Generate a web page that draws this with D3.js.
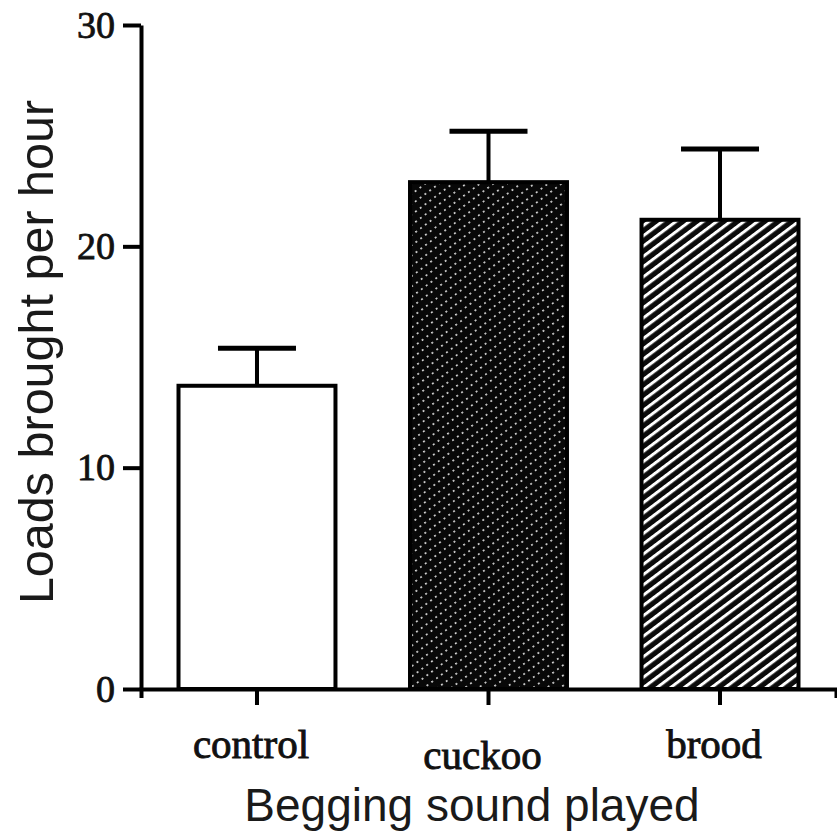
<!DOCTYPE html>
<html>
<head>
<meta charset="utf-8">
<script src="https://cdn.jsdelivr.net/npm/d3@7"></script>
<style>
  html, body { margin: 0; padding: 0; background: #fff; }
  svg { display: block; }
</style>
</head>
<body>
<svg id="chart" width="837" height="833"></svg>
<script>
// Begging playback experiment: mean feeding rate with upper error bar
const categories = ["control", "cuckoo", "brood"];
const means      = [13.7, 22.9, 21.2];
const upperError = [15.4, 25.2, 24.4];
const yTicks     = [0, 10, 20, 30];

const svg = d3.select("#chart");
const defs = svg.append("defs");

// diagonal stripes (brood)
const stripes = defs.append("pattern")
  .attr("id", "stripes")
  .attr("patternUnits", "userSpaceOnUse")
  .attr("width", 10).attr("height", 8.2)
  .attr("patternTransform", "rotate(-37)");
stripes.append("rect").attr("width", 10).attr("height", 8.2).attr("fill", "#0b0b0b");
stripes.append("rect").attr("y", 0).attr("width", 10).attr("height", 3).attr("fill", "#fff");

// dense dark hatch with light dots (cuckoo)
const dots = defs.append("pattern")
  .attr("id", "dots")
  .attr("patternUnits", "userSpaceOnUse")
  .attr("width", 6).attr("height", 8.2)
  .attr("patternTransform", "rotate(-37)");
dots.append("rect").attr("width", 6).attr("height", 8.2).attr("fill", "#080808");
dots.append("rect").attr("x", 0).attr("y", 0).attr("width", 1.8).attr("height", 1.8).attr("fill", "#d8d8d8");

const fills = ["#fff", "url(#dots)", "url(#stripes)"];

const x = d3.scaleBand()
  .domain(categories)
  .range([141, 836])
  .paddingInner(0.322)
  .paddingOuter(0.162);

const y = d3.scaleLinear().domain([0, 30]).range([689, 25]);

// bars
svg.append("g").selectAll("rect")
  .data(categories)
  .join("rect")
  .attr("x", d => x(d))
  .attr("width", x.bandwidth())
  .attr("y", (d, i) => y(means[i]))
  .attr("height", (d, i) => y(0) - y(means[i]))
  .attr("fill", (d, i) => fills[i])
  .attr("stroke", "#000")
  .attr("stroke-width", 4);

// error bars (upper half)
const capHalf = 39;
const eb = svg.append("g").attr("stroke", "#000").attr("stroke-width", 4);
categories.forEach((c, i) => {
  const cx = x(c) + x.bandwidth() / 2;
  eb.append("line")
    .attr("x1", cx).attr("x2", cx)
    .attr("y1", y(means[i])).attr("y2", y(upperError[i]));
  eb.append("line")
    .attr("x1", cx - capHalf).attr("x2", cx + capHalf)
    .attr("y1", y(upperError[i])).attr("y2", y(upperError[i]))
    .attr("stroke-width", 5);
});

const serif = "'Liberation Serif', 'Times New Roman', serif";

// y axis
const yAxis = svg.append("g")
  .attr("transform", "translate(141,0)")
  .call(d3.axisLeft(y).tickValues(yTicks).tickSize(18).tickSizeOuter(0).tickPadding(8));
yAxis.select(".domain").attr("stroke", "#000").attr("stroke-width", 4);
yAxis.selectAll(".tick line").attr("stroke", "#000").attr("stroke-width", 4);
yAxis.selectAll(".tick text")
  .attr("font-family", serif)
  .attr("font-size", 38)
  .attr("fill", "#111")
  .attr("stroke", "#111")
  .attr("stroke-width", 0.8);

// x axis
const xAxis = svg.append("g")
  .attr("transform", `translate(0,${y(0)})`)
  .call(d3.axisBottom(x).tickSize(16).tickSizeOuter(9).tickFormat(""));
xAxis.select(".domain").attr("stroke", "#000").attr("stroke-width", 4);
xAxis.selectAll(".tick line").attr("stroke", "#000").attr("stroke-width", 4);

// category labels
const labelDy = [0, 11, 0];
svg.append("g").selectAll("text")
  .data(categories)
  .join("text")
  .attr("x", d => x(d) + x.bandwidth() / 2 - 6)
  .attr("y", (d, i) => 758 + labelDy[i])
  .attr("text-anchor", "middle")
  .attr("font-family", serif)
  .attr("font-size", 41)
  .attr("fill", "#111")
  .attr("stroke", "#111")
  .attr("stroke-width", 0.9)
  .text(d => d);

// axis titles
svg.append("text")
  .attr("x", 472).attr("y", 821)
  .attr("text-anchor", "middle")
  .attr("font-family", "'Liberation Sans', Arial, sans-serif")
  .attr("font-size", 46)
  .attr("fill", "#1a1a1a")
  .text("Begging sound played");

svg.append("text")
  .attr("transform", "translate(53,352) rotate(-90)")
  .attr("text-anchor", "middle")
  .attr("font-family", "'Liberation Sans', Arial, sans-serif")
  .attr("font-size", 48.5)
  .attr("fill", "#1a1a1a")
  .text("Loads brought per hour");
</script>
</body>
</html>
